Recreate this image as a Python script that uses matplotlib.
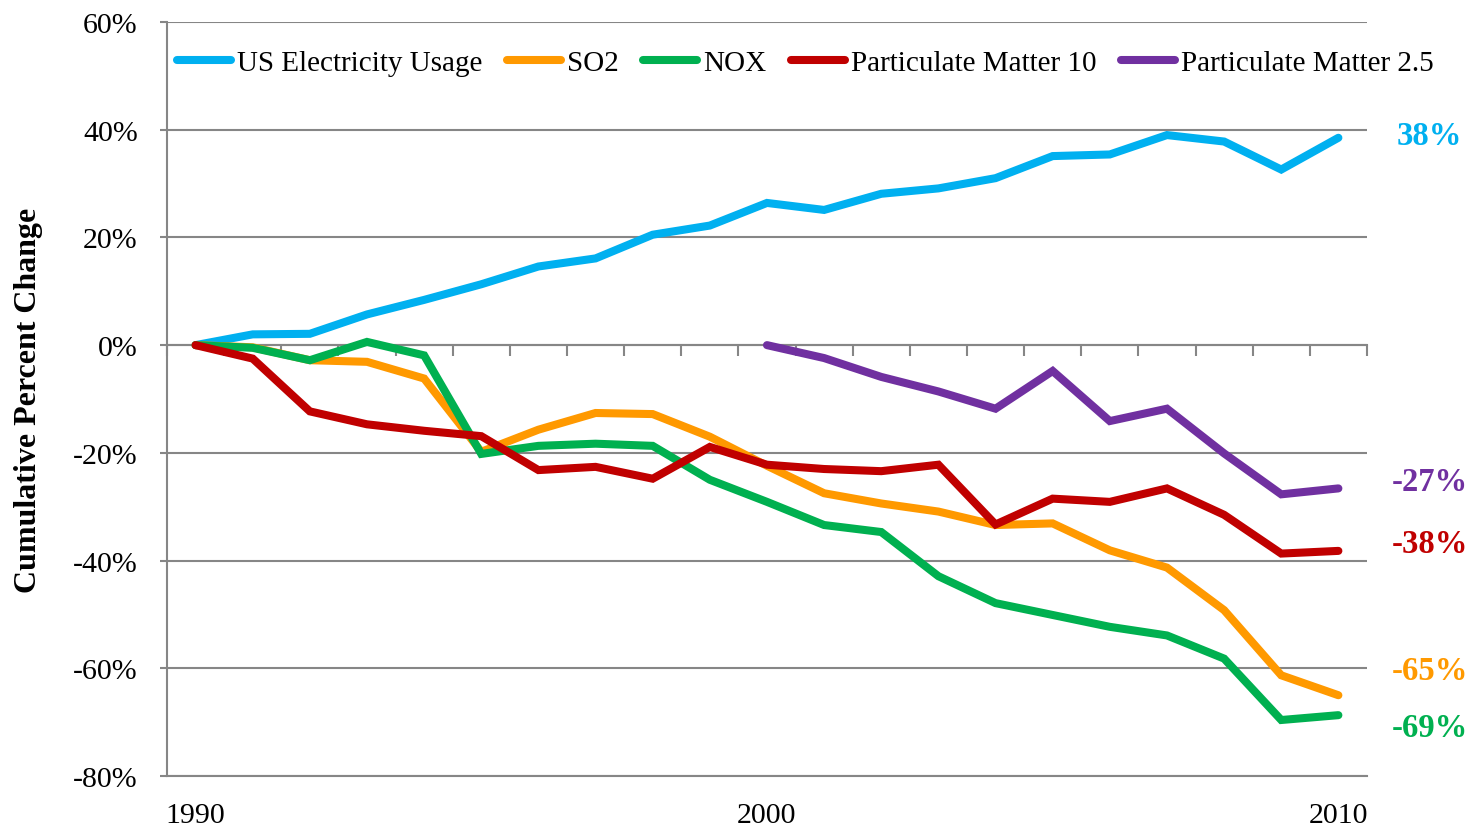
import numpy as np
import matplotlib
matplotlib.use("Agg")
import matplotlib.pyplot as plt

plt.rcParams['font.family'] = ['Liberation Serif', 'DejaVu Serif']

years = np.arange(1990, 2011)
pm25_years = np.arange(2000, 2011)

electricity = [0, 2.0, 2.1, 5.7, 8.4, 11.3, 14.6, 16.1, 20.5, 22.2, 26.4,
               25.1, 28.1, 29.1, 31.0, 35.1, 35.4, 39.0, 37.8, 32.6, 38.5]
so2 = [0, -0.4, -2.8, -3.1, -6.2, -19.8, -15.7, -12.6, -12.8, -17.0, -22.4,
       -27.5, -29.4, -30.9, -33.4, -33.1, -38.1, -41.3, -49.2, -61.3, -65.0]
nox = [0, -0.5, -2.8, 0.6, -1.9, -20.2, -18.7, -18.3, -18.7, -25.0, -29.1,
       -33.4, -34.7, -42.9, -47.9, -50.1, -52.3, -53.9, -58.2, -69.6, -68.7]
pm10 = [0, -2.5, -12.3, -14.7, -15.9, -16.9, -23.2, -22.6, -24.8, -18.9, -22.2,
        -23.0, -23.4, -22.2, -33.3, -28.5, -29.1, -26.6, -31.5, -38.7, -38.2]
pm25 = [0, -2.4, -5.9, -8.6, -11.8, -4.8, -14.1, -11.8, -20.1, -27.7, -26.6]

names = ['US Electricity Usage', 'SO2', 'NOX', 'Particulate Matter 10', 'Particulate Matter 2.5']
colors = ['#00B0F0', '#FF9900', '#00B050', '#C00000', '#7030A0']
end_labels = ['38%', '-65%', '-69%', '-38%', '-27%']
label_y = [39.0, -60.5, -71.0, -36.8, -25.3]

fig = plt.figure(figsize=(14.7, 8.29), dpi=100)
ax = fig.add_axes([0.1136, 0.0627, 0.8163, 0.9096])

series = [(years, electricity), (years, so2), (years, nox), (years, pm10), (pm25_years, pm25)]
for (x, y), name, c in zip(series, names, colors):
    ax.plot(x, y, color=c, lw=5.8, label=name, solid_capstyle='round',
            solid_joinstyle='miter', zorder=3)

for (x, y), c, txt, ly in zip(series, colors, end_labels, label_y):
    ax.text(2011.6, ly, txt, color=c, fontsize=23.5, fontweight='bold',
            ha='center', va='center', clip_on=False)

ax.set_xlim(1989.5, 2010.5)
ax.set_ylim(-80, 60)
ax.set_yticks(np.arange(-80, 61, 20))
ax.set_yticklabels(['%d%%' % v for v in np.arange(-80, 61, 20)])
ax.set_xticks([1990, 2000, 2010])
ax.tick_params(axis='x', length=0, pad=19, labelsize=21.5)
ax.tick_params(axis='y', length=5, width=1.5, color='#868686', pad=16, labelsize=21.5)
ax.grid(axis='y', color='#868686', lw=1.5)
ax.set_axisbelow(True)

for s in ['top', 'right']:
    ax.spines[s].set_visible(False)
for s in ['left', 'bottom']:
    ax.spines[s].set_color('#868686')
    ax.spines[s].set_linewidth(1.5)

# category tick marks along the zero line
sec = ax.secondary_xaxis(80 / 140)
sec.set_xticks(np.append(years - 0.5, years[-1] + 0.5))
sec.xaxis.set_ticks_position('bottom')
sec.tick_params(length=8, width=1.5, color='#868686', direction='out')
sec.set_xticklabels([])
for s in sec.spines.values():
    s.set_color('#868686')
    s.set_linewidth(1.5)

ax.set_ylabel('Cumulative Percent Change', fontsize=23, fontweight='bold', labelpad=22)

ax.legend(loc='upper left', bbox_to_anchor=(-0.004, 0.983), ncol=5, frameon=False,
          fontsize=21, handlelength=1.85, handletextpad=0.2, columnspacing=0.85,
          borderaxespad=0.1)

fig.savefig('out.png', dpi=100)
